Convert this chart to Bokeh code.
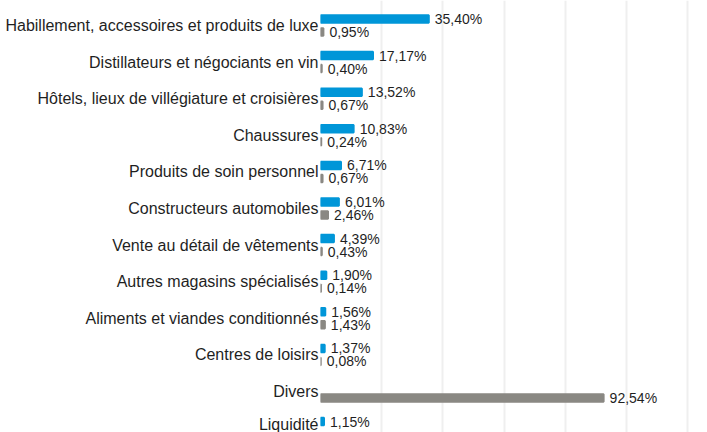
from bokeh.plotting import figure
from bokeh.models import Range1d, FixedTicker, ColumnDataSource
from bokeh.core.properties import value
from bokeh.embed import file_html
from bokeh.resources import INLINE

categories = [
    "Habillement, accessoires et produits de luxe",
    "Distillateurs et négociants en vin",
    "Hôtels, lieux de villégiature et croisières",
    "Chaussures",
    "Produits de soin personnel",
    "Constructeurs automobiles",
    "Vente au détail de vêtements",
    "Autres magasins spécialisés",
    "Aliments et viandes conditionnés",
    "Centres de loisirs",
    "Divers",
    "Liquidité",
]
series_blue = [35.40, 17.17, 13.52, 10.83, 6.71, 6.01, 4.39, 1.90, 1.56, 1.37, None, 1.15]
series_gray = [0.95, 0.40, 0.67, 0.24, 0.67, 2.46, 0.43, 0.14, 1.43, 0.08, 92.54, None]
x_ticks = [0, 20, 40, 60, 80, 100, 120]

BLUE = "#0096d8"
GRAY = "#8a8883"
TEXT = "#1f1f1f"
FONT = "Liberation Sans"

OFF = 0.178
H = 0.205


def fmt(v):
    return f"{v:.2f}".replace(".", ",") + "%"


def make_source(vals, off):
    ys, xs, labels = [], [], []
    for i, v in enumerate(vals):
        if v is None:
            continue
        ys.append(i + off)
        xs.append(v)
        labels.append(fmt(v))
    return ColumnDataSource(dict(y=ys, x=xs, label=labels))


p = figure(
    width=707, height=432,
    x_range=Range1d(0, 126.5),
    y_range=Range1d(11.12, -0.683),
    output_backend="svg", toolbar_location=None,
    min_border_left=320, min_border_right=0, min_border_top=0, min_border_bottom=0,
)
p.outline_line_color = None
p.background_fill_color = "white"
p.border_fill_color = "white"

src_b = make_source(series_blue, -OFF)
src_g = make_source(series_gray, OFF)

p.hbar(y="y", right="x", left=0, height=H, source=src_b,
       fill_color=BLUE, line_color=BLUE, line_width=2)
p.hbar(y="y", right="x", left=0, height=H, source=src_g,
       fill_color=GRAY, line_color=GRAY, line_width=2)

for src in (src_b, src_g):
    p.text(x="x", y="y", text="label", source=src, x_offset=6,
           text_baseline="middle", text_align="left",
           text_font=value(FONT), text_font_size="14px", text_color=TEXT)

p.xaxis.visible = False
p.xgrid.ticker = FixedTicker(ticks=x_ticks)
p.xgrid.grid_line_color = "#efefef"
p.xgrid.grid_line_width = 2
p.ygrid.visible = False

ya = p.yaxis[0]
ya.ticker = FixedTicker(ticks=list(range(len(categories))))
ya.major_label_overrides = {i: c for i, c in enumerate(categories)}
ya.axis_line_color = None
ya.major_tick_line_color = None
ya.minor_tick_line_color = None
ya.major_tick_out = 0
ya.major_tick_in = 0
ya.major_label_standoff = 2
ya.major_label_text_font = FONT
ya.major_label_text_font_size = "16px"
ya.major_label_text_color = TEXT

open("out.html", "w").write(file_html(p, INLINE))
